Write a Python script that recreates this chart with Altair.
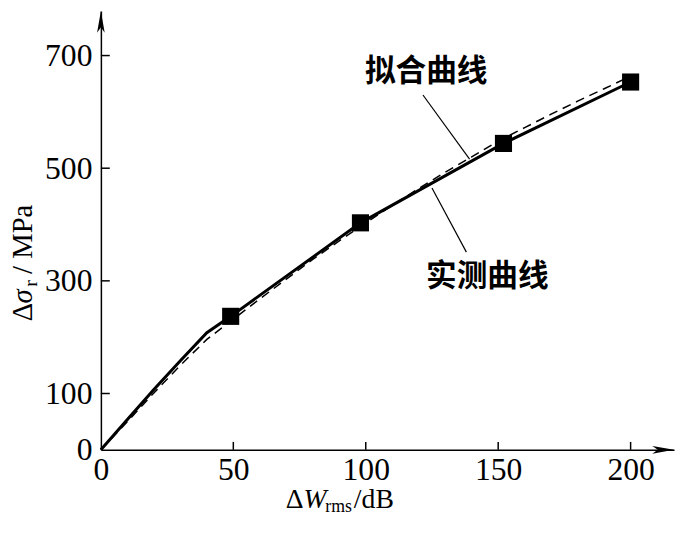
import altair as alt
import pandas as pd

# measured curve (solid) and fitted curve (dashed)
meas_x = [0, 10, 20, 30, 40, 49, 98, 152, 200]
meas_y = [0, 54, 107, 158, 208, 237, 403, 544, 653]
pt_x = [49, 98, 152, 200]
pt_y = [237, 403, 544, 653]
fit_x = [0, 10, 20, 30, 40, 50, 60, 70, 80, 90, 100, 110, 120, 130, 140, 150, 160, 170, 180, 190, 198]
fit_y = [0, 50, 101, 150, 196, 232, 268, 303, 338, 371, 403, 434, 464, 493, 520, 548, 572, 596, 619, 641, 659]

x_ticks = [0, 50, 100, 150, 200]
y_ticks = [0, 100, 300, 500, 700]

labels = ["拟合曲线", "实测曲线"]
label_x = [122.8, 145.9]
label_y = [670, 307]
lead_x = [121.6, 125.0]
lead_y = [630, 465]
lead_x2 = [139.2, 138.0]
lead_y2 = [516, 351]

XMAX, YMAX = 216.4, 779
W, H = 580, 444
SERIF = "Liberation Serif"

xs = alt.Scale(domain=[0, XMAX], nice=False, zero=False)
ys = alt.Scale(domain=[0, YMAX], nice=False, zero=False)

meas = pd.DataFrame({"x": meas_x, "y": meas_y})
pts = pd.DataFrame({"x": pt_x, "y": pt_y})
fit = pd.DataFrame({"x": fit_x, "y": fit_y})
ann = pd.DataFrame({"t": labels, "x": label_x, "y": label_y,
                    "lx": lead_x, "ly": lead_y, "lx2": lead_x2, "ly2": lead_y2})

xaxis = alt.Axis(values=x_ticks, ticks=False, grid=False, domainColor="black", domainWidth=1.5,
                 labelFont=SERIF, labelFontSize=32, labelColor="black", labelPadding=5, title=None,
                 labelFlush=False)
yaxis = alt.Axis(values=y_ticks, ticks=False, grid=False, domainColor="black", domainWidth=1.5,
                 labelFont=SERIF, labelFontSize=32, labelColor="black", labelPadding=9, title=None)

base_axes = alt.Chart(fit).mark_line(opacity=0).encode(
    x=alt.X("x:Q", scale=xs, axis=xaxis),
    y=alt.Y("y:Q", scale=ys, axis=yaxis),
)

fit_line = alt.Chart(fit).mark_line(color="black", strokeWidth=1.5, strokeDash=[9, 6]).encode(
    x=alt.X("x:Q", scale=xs), y=alt.Y("y:Q", scale=ys))
meas_line = alt.Chart(meas).mark_line(color="black", strokeWidth=3).encode(
    x=alt.X("x:Q", scale=xs), y=alt.Y("y:Q", scale=ys))
squares = alt.Chart(pts).mark_point(shape="square", filled=True, color="black", size=300, opacity=1).encode(
    x=alt.X("x:Q", scale=xs), y=alt.Y("y:Q", scale=ys))

leaders = alt.Chart(ann).mark_rule(color="black", strokeWidth=1.2).encode(
    x=alt.X("lx:Q", scale=xs), y=alt.Y("ly:Q", scale=ys), x2="lx2:Q", y2="ly2:Q")
ann_text = alt.Chart(ann).mark_text(font="Noto Sans CJK SC", fontSize=31, fontWeight="bold",
                                    color="black", align="center", baseline="middle").encode(
    x=alt.X("x:Q", scale=xs), y=alt.Y("y:Q", scale=ys), text="t:N")

xt = pd.DataFrame({"v": x_ticks[1:]})
yt = pd.DataFrame({"v": y_ticks[1:]})
xtick_marks = alt.Chart(xt).mark_rule(color="black", strokeWidth=1.5).encode(
    x=alt.X("v:Q", scale=xs), y=alt.value(H), y2=alt.value(H - 8))
ytick_marks = alt.Chart(yt).mark_rule(color="black", strokeWidth=1.5).encode(
    y=alt.Y("v:Q", scale=ys), x=alt.value(0), x2=alt.value(9))

one = pd.DataFrame({"a": [0]})
arrow_x = alt.Chart(one).mark_point(shape="M1,0 L-1,-0.35 L-0.5,0 L-1,0.35 Z", filled=True,
                                    color="black", size=484, opacity=1).encode(
    x=alt.value(W - 11), y=alt.value(H))
arrow_y = alt.Chart(one).mark_point(shape="M0,-1 L-0.35,1 L0,0.5 L0.35,1 Z", filled=True,
                                    color="black", size=484, opacity=1).encode(
    x=alt.value(0), y=alt.value(11))

def txt(s, x, y, size=28, style="normal", angle=0):
    return alt.Chart(one).mark_text(text=s, font=SERIF, fontSize=size, fontStyle=style,
                                    color="black", align="left", baseline="alphabetic",
                                    angle=angle).encode(x=alt.value(x), y=alt.value(y))

xtitle = (txt("Δ", 187, 503) + txt("W", 205, 503, style="italic") +
          txt("rms", 227, 507, size=18) + txt("/dB", 256, 503))
ytitle = (txt("Δ", -70, 314, size=29, angle=270) +
          txt("σ", -70, 296, size=29, style="italic", angle=270) +
          txt("r", -65, 279, size=20, angle=270) +
          txt("/ MPa", -70, 266, size=29, angle=270))

chart = alt.layer(base_axes, xtick_marks, ytick_marks, fit_line, meas_line, squares,
                  leaders, ann_text, arrow_x, arrow_y, xtitle, ytitle).properties(
    width=W, height=H, autosize="none",
    padding={"left": 94, "top": 0, "right": 4, "bottom": 75},
    background="white",
).configure_view(stroke=None)

chart.save("out.html", embed_options={"renderer": "svg", "actions": False})
